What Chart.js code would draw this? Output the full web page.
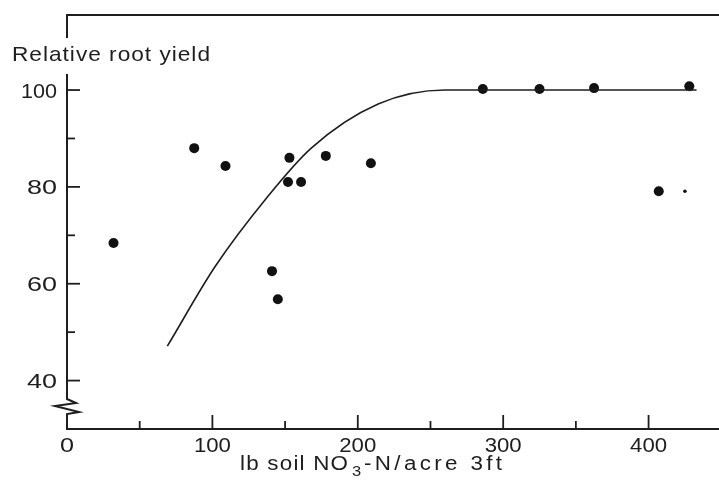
<!DOCTYPE html>
<html>
<head>
<meta charset="utf-8">
<script src="https://cdn.jsdelivr.net/npm/chart.js@4"></script>
<style>
  html,body{margin:0;padding:0;background:#fff;}
  canvas{display:block;}
</style>
</head>
<body>
<canvas id="chart" width="719" height="482"></canvas>
<script>
// données
const soilN=[32,87.5,109,153,152,161,178,209,141,145,286,325,362.5,428,407];
const rootYield=[68.4,88.0,84.3,86.0,81.0,81.0,86.4,84.9,62.6,56.8,100.2,100.2,100.4,100.8,79.1];
const smallN=[425];
const smallYield=[79.1];
const curveN=[69,102,137,168,214,260,433];
const curveYield=[47.1,63.6,77.6,88.0,97.1,100,100];

const xLabels=[0,100,200,300,400];
const xMajor=[100,200,300,400];
const xMinor=[50,150,250,350];
const yLabels=[40,60,80,100];
const yMinor=[50,70,90];

const ink="#1e1e1e";
const fontFam='"Liberation Sans", Arial, sans-serif';

// texte étiré horizontalement jusqu'à la largeur voulue
function scaledText(ctx,text,x,y,size,width,align){
  ctx.font=`${size}px ${fontFam}`;
  ctx.letterSpacing="0px";
  const w=ctx.measureText(text).width;
  const sx=width/w;
  let left=x;
  if(align==="center") left=x-width/2;
  else if(align==="right") left=x-width;
  ctx.save();
  ctx.translate(left,y); ctx.scale(sx,1);
  ctx.textAlign="left";
  ctx.fillText(text,0,0);
  ctx.restore();
}
// texte espacé
function spacedText(ctx,text,x,y,size,width,stretch){
  ctx.font=`${size}px ${fontFam}`;
  ctx.letterSpacing="0px";
  const w=ctx.measureText(text).width*stretch;
  const sp=text.length>1?(width-w)/(text.length-1)/stretch:0;
  ctx.save();
  ctx.letterSpacing=`${sp}px`;
  ctx.translate(x,y); ctx.scale(stretch,1);
  ctx.textAlign="left";
  ctx.fillText(text,0,0);
  ctx.restore();
  ctx.letterSpacing="0px";
}

const axesPlugin={
  id:"axesPlugin",
  afterDraw(chart){
    const ctx=chart.ctx, xs=chart.scales.x, ys=chart.scales.y;
    const ax=xs.getPixelForValue(0), ay=ys.getPixelForValue(30);
    const top=ys.getPixelForValue(115.5), right=chart.width;
    ctx.save();
    ctx.strokeStyle=ink; ctx.fillStyle=ink; ctx.lineWidth=2; ctx.lineCap="butt";
    // cadre haut + axe x
    ctx.beginPath(); ctx.moveTo(ax-1,top); ctx.lineTo(right,top); ctx.stroke();
    ctx.beginPath(); ctx.moveTo(ax-1,ay); ctx.lineTo(right,ay); ctx.stroke();
    // axe y avec coupure
    const b1=ys.getPixelForValue(36.2), b2=ys.getPixelForValue(33.1);
    ctx.beginPath(); ctx.moveTo(ax,top); ctx.lineTo(ax,b1);
    ctx.lineTo(ax+9,b1+4); ctx.lineTo(ax-12,b1+7); ctx.lineTo(ax+12,b2-2); ctx.lineTo(ax,b2);
    ctx.lineTo(ax,ay); ctx.stroke();
    // ticks y
    ctx.lineWidth=1.8;
    yLabels.forEach(v=>{const p=ys.getPixelForValue(v); ctx.beginPath(); ctx.moveTo(ax,p); ctx.lineTo(ax+13,p); ctx.stroke();});
    yMinor.forEach(v=>{const p=ys.getPixelForValue(v); ctx.beginPath(); ctx.moveTo(ax,p); ctx.lineTo(ax+8,p); ctx.stroke();});
    // ticks x
    xMajor.forEach(v=>{const p=xs.getPixelForValue(v); ctx.beginPath(); ctx.moveTo(p,ay); ctx.lineTo(p,ay-14); ctx.stroke();});
    xMinor.forEach(v=>{const p=xs.getPixelForValue(v); ctx.beginPath(); ctx.moveTo(p,ay); ctx.lineTo(p,ay-8); ctx.stroke();});
    // labels
    yLabels.forEach(v=>{
      const p=ys.getPixelForValue(v);
      const s=String(v);
      scaledText(ctx,s,57,p+7.5,20,s.length===3?36:30,"right");
    });
    xLabels.forEach(v=>{
      const p=xs.getPixelForValue(v);
      const s=String(v);
      scaledText(ctx,s,p,ay+23,20,s.length===3?37:14,"center");
    });
    // titre y (coupe l'axe)
    ctx.fillStyle="#fff"; ctx.fillRect(ax-4,38,10,36);
    ctx.fillStyle=ink;
    spacedText(ctx,"Relative root yield",12,61,21,198,1.08);
    // titre x
    const x0=240, by=470;
    spacedText(ctx,"lb soil NO",x0,by,20,108,1.12);
    spacedText(ctx,"3",x0+112,by+6,15,9,1.1);
    spacedText(ctx,"-N/acre 3ft",x0+124,by,20,138,1.12);
    ctx.restore();
  }
};

new Chart(document.getElementById("chart"),{
  type:"scatter",
  data:{datasets:[
    {type:"line",data:curveN.map((x,i)=>({x:x,y:curveYield[i]})),borderColor:ink,borderWidth:1.6,pointRadius:0,cubicInterpolationMode:"monotone",fill:false,clip:false},
    {data:soilN.map((x,i)=>({x:x,y:rootYield[i]})),backgroundColor:"#111",borderColor:"#111",pointRadius:5,pointBorderWidth:0,clip:false},
    {data:smallN.map((x,i)=>({x:x,y:smallYield[i]})),backgroundColor:"#111",borderColor:"#111",pointRadius:1.8,pointBorderWidth:0,clip:false}
  ]},
  options:{
    responsive:false,animation:false,devicePixelRatio:1,
    layout:{padding:{left:67,top:15,right:0,bottom:53}},
    plugins:{legend:{display:false},tooltip:{enabled:false}},
    scales:{
      x:{type:"linear",min:0,max:445,display:false},
      y:{type:"linear",min:30,max:115.5,display:false}
    }
  },
  plugins:[axesPlugin]
});
</script>
</body>
</html>
